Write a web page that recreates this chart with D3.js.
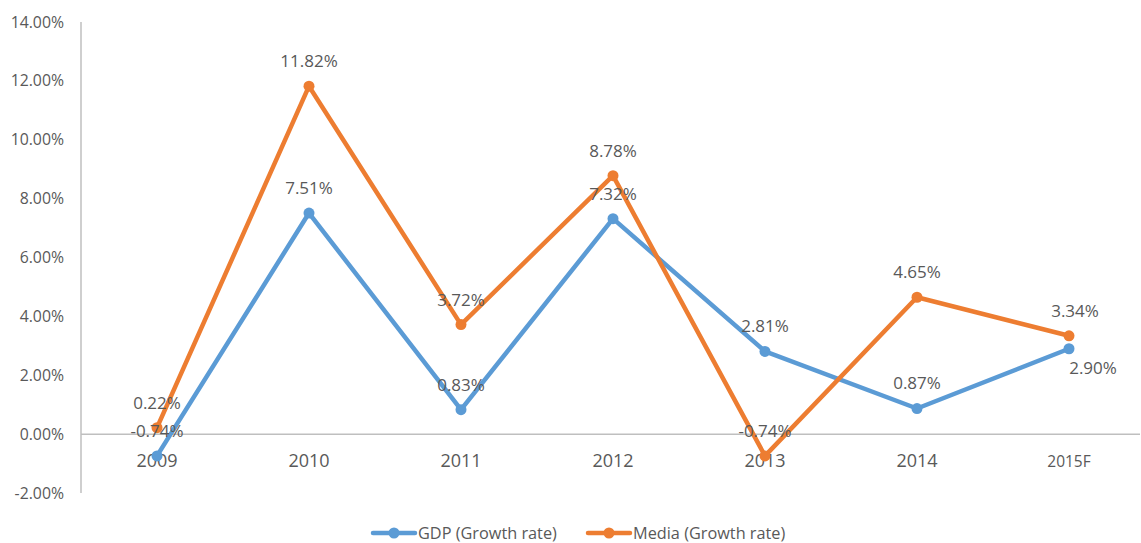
<!DOCTYPE html>
<meta charset="utf-8">
<style>
body { margin: 0; background: #fff; }
text { font-family: "Open Sans", sans-serif; fill: #595959; }
.line { fill: none; stroke-width: 4.5px; stroke-linejoin: round; }
</style>
<body>
<div id="chart"></div>
<script src="https://cdn.jsdelivr.net/npm/d3@7"></script>
<script>
// data
var years = ["2009", "2010", "2011", "2012", "2013", "2014", "2015F"];
var gdp = [-0.74, 7.51, 0.83, 7.32, 2.81, 0.87, 2.90];
var media = [0.22, 11.82, 3.72, 8.78, -0.74, 4.65, 3.34];
var yTicks = [-2, 0, 2, 4, 6, 8, 10, 12, 14];
var seriesNames = ["GDP (Growth rate)", "Media (Growth rate)"];
var colors = ["#5B9BD5", "#ED7D31"];

var width = 1141, height = 543;

// plain hyphen for negatives, like the original
var pct = function(d) { return d3.format(".2f")(d).replace("\u2212", "-") + "%"; };

var svg = d3.select("#chart").append("svg")
    .attr("width", width)
    .attr("height", height);

var x = d3.scaleBand().domain(years).range([81, 1145]);
var y = d3.scaleLinear().domain([-2, 14]).range([493, 22]);

// y axis (line + labels)
svg.append("line")
    .attr("x1", 81).attr("x2", 81)
    .attr("y1", y(14)).attr("y2", y(-2))
    .attr("stroke", "#bfbfbf").attr("stroke-width", 1.5);

svg.selectAll(".ytick").data(yTicks).enter()
  .append("text")
    .attr("class", "ytick")
    .attr("x", 64)
    .attr("y", function(d) { return y(d); })
    .attr("dy", "0.35em")
    .attr("text-anchor", "end")
    .style("font-size", "15.8px")
    .text(pct);

// zero line
svg.append("line")
    .attr("x1", 81).attr("x2", 1140)
    .attr("y1", y(0)).attr("y2", y(0))
    .attr("stroke", "#bfbfbf").attr("stroke-width", 1.5);

// x labels sit under the zero line
svg.selectAll(".xtick").data(years).enter()
  .append("text")
    .attr("class", "xtick")
    .attr("x", function(d) { return x(d) + x.bandwidth() / 2; })
    .attr("y", y(0) + 27)
    .attr("dy", "0.35em")
    .attr("text-anchor", "middle")
    .style("font-size", function(d) { return d === "2015F" ? "15.5px" : "18px"; })
    .text(function(d) { return d; });

var line = d3.line()
    .x(function(d, i) { return x(years[i]) + x.bandwidth() / 2; })
    .y(function(d) { return y(d); });

var series = [gdp, media];

series.forEach(function(vals, s) {
    svg.append("path")
        .datum(vals)
        .attr("class", "line")
        .attr("stroke", colors[s])
        .attr("d", line);

    svg.selectAll(".dot" + s).data(vals).enter()
      .append("circle")
        .attr("cx", function(d, i) { return x(years[i]) + x.bandwidth() / 2; })
        .attr("cy", function(d) { return y(d); })
        .attr("r", 5.5)
        .attr("fill", colors[s]);
});

// data labels
series.forEach(function(vals, s) {
    svg.selectAll(".lab" + s).data(vals).enter()
      .append("text")
        .attr("x", function(d, i) {
            var cx = x(years[i]) + x.bandwidth() / 2;
            if (s === 0 && i === 6) return cx + 24;
            if (i === 6) return cx + 6;
            return cx;
        })
        .attr("y", function(d, i) {
            if (s === 0 && i === 6) return y(d) + 19;
            return y(d) - 25;
        })
        .attr("dy", "0.35em")
        .attr("text-anchor", "middle")
        .style("font-size", "17px")
        .text(pct);
});

// legend
var legend = svg.append("g");
var legendX = [373, 588];
seriesNames.forEach(function(name, s) {
    var g = legend.append("g").attr("transform", "translate(" + legendX[s] + ",533)");
    g.append("line")
        .attr("x1", 0).attr("x2", 42)
        .attr("stroke", colors[s]).attr("stroke-width", 4.5)
        .attr("stroke-linecap", "round");
    g.append("circle").attr("cx", 21).attr("r", 5.5).attr("fill", colors[s]);
    g.append("text")
        .attr("x", 45).attr("dy", "0.35em")
        .style("font-size", "16.3px")
        .text(name);
});
</script>
</body>
